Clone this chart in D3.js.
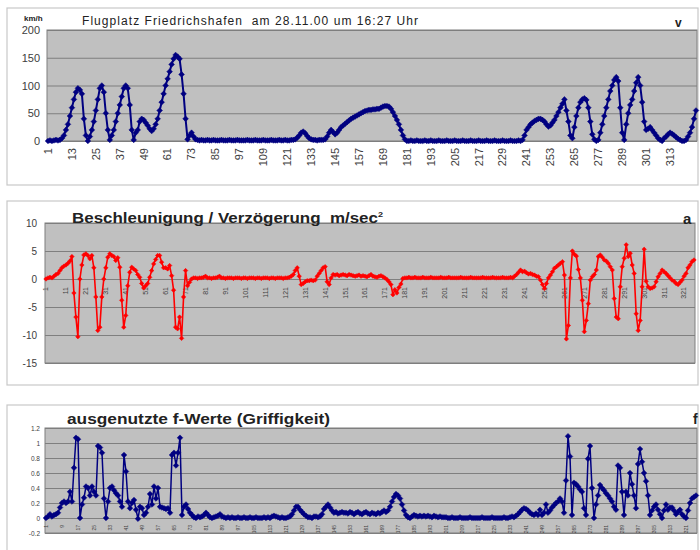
<!DOCTYPE html>
<html><head><meta charset="utf-8">
<script src="https://cdn.jsdelivr.net/npm/d3@7"></script>
<style>
body{margin:0;background:#fff;}
svg{display:block;font-family:Arial,"Liberation Sans",sans-serif;}
text{white-space:pre;}
</style>
</head><body><svg id="c" width="700" height="550"></svg>
<script>
const categories = d3.range(1, 327);
const speed = [0,1,0,1,2,1,2,5,10,20,
30,45,60,75,88,95,92,85,40,10,
0,8,20,35,55,75,95,100,88,50,
20,2,10,20,35,50,65,80,95,100,
95,65,20,2,15,20,35,40,38,33,
28,22,18,22,30,40,55,70,85,100,
112,125,138,148,155,152,148,120,85,40,
3,10,15,8,3,2,1,2,1,1,
2,1,1,2,1,1,1,2,1,1,
1,2,1,1,1,2,1,1,1,1,
2,1,1,1,2,1,1,1,2,1,
1,1,2,1,1,1,2,1,1,2,
1,1,2,2,3,6,10,15,17,14,
9,5,3,2,2,1,2,2,2,3,
8,15,20,16,12,15,20,25,28,31,
34,37,40,42,44,46,48,50,52,54,
55,56,56,57,57,58,58,60,62,63,
63,62,58,52,45,38,30,20,10,3,
0,0,1,0,0,1,0,0,0,1,
0,0,1,0,0,0,1,0,0,0,
1,0,0,0,1,0,0,0,1,0,
0,0,1,0,0,0,1,0,0,0,
1,0,0,0,1,0,0,0,1,0,
0,0,1,0,0,0,1,0,2,10,
20,25,30,33,36,38,40,40,38,35,
30,26,28,33,38,45,52,60,67,75,
55,35,10,5,25,45,60,70,75,77,
74,60,35,12,3,0,2,15,30,45,
60,75,90,100,110,115,108,60,15,2,
30,50,65,75,90,105,115,100,70,35,
20,22,25,20,15,10,5,2,0,5,
8,12,15,13,10,7,4,2,0,0,
2,8,15,25,40,55];
const accel = [0,0.2,0.3,0.2,0.5,0.8,1,1.5,2,2.3,
2.5,2.8,3.2,4,-2.5,-6.8,-10.3,0,2.5,4.3,
4.5,4.2,3.6,4.2,2,-3.2,-9.2,-8.6,-3.2,0,
2,3.9,4.5,4.2,4,3.3,3.8,2.1,-3.8,-8.6,
-6.5,-1.2,1.2,2.1,1.8,1.5,0.8,0.3,-0.8,-1.6,
-1.2,-0.8,0.3,1.5,2.7,3.5,4.2,4.2,3,2,
2,1.8,2.4,0.6,-2,-8.6,-8.9,-6.8,-10.6,-3.2,
1.5,-1.2,-0.6,0,0.2,0.2,0.1,0.2,0.2,0.3,
0.5,0.2,0.2,0.1,0.2,0.2,0.3,0.5,0.2,0.2,
0.1,0.2,0.2,0.2,0.1,0.2,0.2,0.2,0.1,0.2,
0.2,0.1,0.2,0.2,0.2,0.1,0.2,0.2,0.1,0.2,
0.2,0.2,0.1,0.2,0.2,0.1,0.2,0.2,0.2,0.1,
0.2,0.2,0.3,0.5,0.8,1.5,2,0.5,-1,-0.8,
-0.5,-0.3,-0.3,-0.2,-0.3,-0.2,0.5,1,1.5,2,
2.2,-0.5,-1,0.2,0.8,0.7,0.8,0.6,0.7,0.8,
0.7,0.6,0.8,0.7,0.6,0.5,0.6,0.7,0.5,0.6,
0.5,0.4,0.6,0.8,0.5,0.4,0.3,0.5,0.6,0.4,
0.2,-0.1,-0.5,-1,-2.8,-1.9,-2.5,-1.5,-0.9,0.1,
0.2,0.2,0.3,0.2,0.2,0.3,0.2,0.2,0.2,0.3,
0.2,0.2,0.2,0.3,0.2,0.2,0.2,0.2,0.3,0.2,
0.2,0.2,0.3,0.2,0.2,0.2,0.2,0.2,0.3,0.2,
0.2,0.2,0.2,0.3,0.2,0.2,0.2,0.2,0.2,0.3,
0.2,0.2,0.2,0.2,0.3,0.2,0.2,0.2,0.2,0.3,
0.2,0.2,0.2,0.3,0.2,0.5,0.8,1.2,1.6,1.3,
1.4,1.1,0.9,1,0.8,0.7,0.5,0.4,-0.2,-1,
-1.7,-0.8,0.2,0.7,1.3,1.9,2.2,2.5,2.8,3.1,
0.7,-10.7,-8.3,0.2,5,4.4,4.1,1.7,0.2,-3.8,
-9.4,-7.4,-4.4,-0.2,0.4,0.8,1.6,4,4.3,3.9,
3.4,3.2,2.8,2.2,1.6,-3.5,-6.8,-7.1,-1.4,2.2,
3.7,6.1,4,4.6,2.5,1,-6.2,-9.2,-7.4,-1.4,
5.3,-0.4,-1.4,-1.7,-1.6,-1.4,-0.5,0.4,1,1.6,
1.3,1,0.6,0.2,-0.2,-0.4,-0.8,-1,-0.6,-0.2,
0.5,1,2,2.5,3.1,3.4];
const fval = [0,0.02,0.05,0.02,0.04,0.05,0.07,0.14,0.2,0.22,
0.2,0.22,0.35,0.22,0.67,1.07,1.05,0,0.18,0.27,
0.42,0.4,0.3,0.42,0.35,0.3,0.96,0.94,0.87,0.26,
0,0.22,0.4,0.42,0.37,0.33,0.3,0.22,0.15,0.84,
0.62,0.22,0.13,0.2,0.24,0.11,-0.01,0.15,0.13,0.04,
0.07,0.15,0.32,0.18,0.42,0.26,0.4,0.15,0.14,0.13,
0.12,0.13,0.07,0.84,0.87,0.7,0.87,1.07,0.04,0.15,
0.18,0.12,0.07,0.04,0.01,0,0.02,0.01,0.02,0.04,
0.07,0.04,0.01,0,0.01,0.02,0.03,0.05,0.02,0.01,
0,0.01,0,0.01,0,0,0.01,0,0,0.01,
0,0,0.01,0,0,0.01,0,0,0,0.01,
0,0.01,0,0.02,0.03,0.02,0.01,0,0.01,0,
0,0.01,0.02,0.05,0.1,0.15,0.15,0.11,0.08,0.05,
0.03,0.01,0.01,0,0.02,0.02,0.01,0.02,0.05,0.12,
0.15,0.18,0.14,0.1,0.07,0.08,0.06,0.07,0.08,0.07,
0.07,0.06,0.08,0.07,0.05,0.07,0.08,0.06,0.05,0.07,
0.08,0.06,0.05,0.07,0.06,0.05,0.07,0.06,0.08,0.1,
0.08,0.1,0.15,0.22,0.28,0.32,0.3,0.26,0.18,0.1,
0.04,0.01,0,0.02,0.04,0.03,0.02,0.03,0.02,0.03,
0.02,0.03,0.02,0.01,0.03,0.02,0.01,0.02,0.01,0.01,
0.01,0,0,0.01,0,0,0,0.01,0,0,
0,0,0.01,0,0,0,0,0,0.01,0,
0,0,0,0.01,0,0,0,0,0,0.01,
0,0,0.01,0.02,0.01,0.03,0.05,0.08,0.11,0.13,
0.12,0.1,0.07,0.05,0.04,0.06,0.04,0.11,0.04,0.07,
0.18,0.07,0.1,0.14,0.17,0.2,0.22,0.26,0.22,0.07,
0.5,1.09,0.82,0.04,0.47,0.45,0.42,0.38,0.35,0.13,
0.04,0.79,0.96,0.4,0,0.18,0.3,0.44,0.4,0.37,
0.33,0.3,0.26,0.22,0.15,0.11,0.7,0.67,0.35,0.04,
0.35,0.3,0.6,0.45,0.3,0.13,0.72,0.92,0.75,0.6,
0.49,0.3,0.04,0.1,0.15,0.18,0.11,0.05,0,0.1,
0.18,0.11,0.14,0.14,0.1,0.05,0.08,0.11,0.05,0.02,
0,0.1,0.2,0.26,0.28,0.3];
const speedTicks = [0,50,100,150,200];
const accelTicks = [-15,-10,-5,0,5,10];
const fTicks = [-0.2,0,0.2,0.4,0.6,0.8,1,1.2];
const speedLabels = [1,13,25,37,49,61,73,85,97,109,121,133,145,157,169,181,193,205,217,229,241,253,265,277,289,301,313];
const accelLabels = [1,11,21,31,41,51,61,71,81,91,101,111,121,131,141,151,161,171,181,191,201,211,221,231,241,251,261,271,281,291,301,311,321];
const fLabels = [1,9,17,25,33,41,49,57,65,73,81,89,97,105,113,121,129,137,145,153,161,169,177,185,193,201,209,217,225,233,241,249,257,265,273,281,289,297,305,313,321];

const svg = d3.select('#c');
svg.append('rect').attr('width',700).attr('height',550).attr('fill','#fff');

function panel(o){
  const g = svg.append('g');
  g.append('rect').attr('x',o.frame[0]).attr('y',o.frame[1]).attr('width',o.frame[2]).attr('height',o.frame[3])
    .attr('fill','#fff').attr('stroke','#c8c8c8').attr('stroke-width',1.2);
  const x = d3.scaleBand().domain(categories).range([o.left,o.right]);
  const y = d3.scaleLinear().domain(o.domain).range([o.bottom,o.top]);
  const cx = d => x(d) + x.bandwidth()/2;
  g.append('rect').attr('x',o.left).attr('y',o.top).attr('width',o.right-o.left).attr('height',o.bottom-o.top).attr('fill','#c0c0c0');
  const grid = g.append('g').attr('transform',`translate(${o.left},0)`)
    .call(d3.axisLeft(y).tickValues(o.ticks).tickSize(-(o.right-o.left)).tickFormat(''));
  grid.select('.domain').remove();
  grid.selectAll('line').attr('stroke','#7f7f7f').attr('stroke-width',1);
  g.append('rect').attr('x',o.left).attr('y',o.top).attr('width',o.right-o.left).attr('height',o.bottom-o.top)
    .attr('fill','none').attr('stroke','#7f7f7f').attr('stroke-width',1);
  const ya = g.append('g').attr('transform',`translate(${o.left},0)`)
    .call(d3.axisLeft(y).tickValues(o.ticks).tickSize(0).tickPadding(o.ypad).tickFormat(d=>String(d)));
  ya.select('.domain').remove();
  ya.selectAll('text').attr('font-size',o.yfs).attr('fill','#404040').attr('font-family','Arial,"Liberation Sans",sans-serif');
  const xa = g.append('g').attr('transform',`translate(0,${y(o.xAt)})`)
    .call(d3.axisBottom(x).tickValues(o.xlabels).tickSize(0));
  xa.select('.domain').remove();
  xa.selectAll('text').attr('transform','rotate(-90)').attr('text-anchor','end')
    .attr('x',-o.xpad).attr('y',0).attr('dy','0.35em')
    .attr('font-size',o.xfs).attr('fill','#404040').attr('font-family','Arial,"Liberation Sans",sans-serif');
  const line = d3.line().x((d,i)=>cx(categories[i])).y(d=>y(d));
  g.append('path').datum(o.data).attr('d',line).attr('fill','none').attr('stroke',o.color).attr('stroke-width',o.lw).attr('stroke-linejoin','round');
  const sym = d3.symbol().type(d3.symbolSquare).size(o.ms);
  g.append('g').selectAll('path').data(o.data).join('path')
    .attr('transform',(d,i)=>`translate(${cx(categories[i])},${y(d)}) rotate(45)`)
    .attr('d',sym).attr('fill',o.color).attr('stroke',o.color).attr('stroke-width',0.5);
  return g;
}

const p1 = panel({frame:[7,8,691,177], left:47, right:697, top:30, bottom:141, domain:[0,200], ticks:speedTicks,
  ypad:7, yfs:11, xAt:0, xlabels:speedLabels, xpad:7, xfs:11, data:speed, color:'#000080', lw:2, ms:16});
p1.append('text').attr('x',24).attr('y',21).attr('font-size',8).attr('font-weight','bold').attr('fill','#222').text('km/h');
p1.append('text').attr('x',82).attr('y',25).attr('font-size',12).attr('fill','#222').attr('textLength',336).attr('lengthAdjust','spacing')
  .text('Flugplatz Friedrichshafen  am 28.11.00 um 16:27 Uhr');
p1.append('text').attr('x',675).attr('y',27).attr('font-size',12).attr('font-weight','bold').attr('fill','#222').text('v');

const p2 = panel({frame:[7,201,691,184], left:45, right:695, top:223, bottom:363, domain:[-15,10], ticks:accelTicks,
  ypad:8, yfs:10, xAt:0, xlabels:accelLabels, xpad:8, xfs:7, data:accel, color:'#ff0000', lw:1.6, ms:10});
const t2 = p2.append('text').attr('x',72).attr('y',223).attr('font-size',15).attr('font-weight','bold').attr('fill','#222')
  .attr('textLength',311).attr('lengthAdjust','spacingAndGlyphs');
t2.append('tspan').text('Beschleunigung / Verzögerung  m/sec');
t2.append('tspan').attr('dy',-6).attr('font-size',8).text('2');
p2.append('text').attr('x',683).attr('y',224).attr('font-size',15).attr('font-weight','bold').attr('fill','#222').text('a');

const p3 = panel({frame:[7,405,691,160], left:45, right:697, top:428, bottom:533, domain:[-0.2,1.2], ticks:fTicks,
  ypad:5, yfs:6.5, xAt:0, xlabels:fLabels, xpad:7, xfs:5, data:fval, color:'#000080', lw:1.5, ms:16});
p3.append('text').attr('x',67).attr('y',424).attr('font-size',15).attr('font-weight','bold').attr('fill','#222')
  .attr('textLength',263).attr('lengthAdjust','spacingAndGlyphs')
  .text('ausgenutzte f-Werte (Griffigkeit)');
p3.append('text').attr('x',693).attr('y',424).attr('font-size',14).attr('font-weight','bold').attr('fill','#222').text('f');
</script>
</body></html>
